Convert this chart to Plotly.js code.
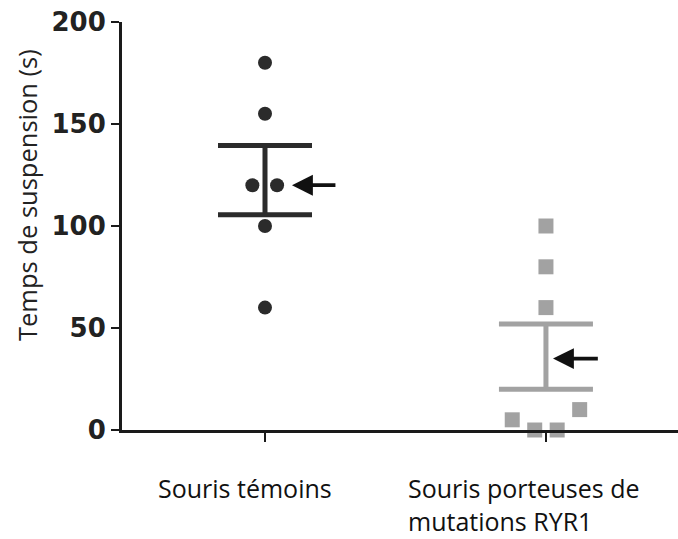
<!DOCTYPE html>
<html>
<head>
<meta charset="utf-8">
<script src="https://cdn.plot.ly/plotly-3.0.1.min.js"></script>
<style>html,body{margin:0;padding:0;background:#fff;}#chart{width:678px;height:539px;}</style>
</head>
<body>
<div id="chart"></div>
<script>
// Data
const categories = ["Souris témoins", "Souris porteuses de<br>mutations RYR1"];
const controlValues = [180, 155, 120, 120, 100, 60];
const controlJitter = [0, 0, -0.045, 0.043, 0, 0];
const ryr1Values = [100, 80, 60, 10, 5, 0, 0];
const ryr1Jitter = [0, 0, 0, 0.12, -0.12, -0.04, 0.04];
const groupMeans = [122.5, 36];
const groupSEM = [17, 16];
const yTicks = [0, 50, 100, 150, 200];
const yTitle = "Temps de suspension (s)";

const dark = '#2b2b2b';
const grey = '#a2a2a2';

// plot-area geometry in pixels (for converting text positions to paper fractions)
const PL = 122, PW = 556, PB = 430, PH = 408;
const px2x = p => (p - PL) / PW;
const px2y = p => (PB - p) / PH;

const traces = [
  {
    type: 'scatter', mode: 'markers',
    x: controlValues.map((v, i) => 1 + controlJitter[i]),
    y: controlValues,
    marker: {symbol: 'circle', size: 14, color: dark},
    cliponaxis: false, hoverinfo: 'skip'
  },
  {
    type: 'scatter', mode: 'markers',
    x: ryr1Values.map((v, i) => 2 + ryr1Jitter[i]),
    y: ryr1Values,
    marker: {symbol: 'square', size: 15, color: grey},
    cliponaxis: false, hoverinfo: 'skip'
  },
  {
    type: 'scatter', mode: 'markers',
    x: [1], y: [groupMeans[0]],
    marker: {size: 1, color: 'rgba(0,0,0,0)'},
    error_y: {type: 'data', array: [groupSEM[0]], visible: true, color: dark, thickness: 5, width: 47},
    hoverinfo: 'skip'
  },
  {
    type: 'scatter', mode: 'markers',
    x: [2], y: [groupMeans[1]],
    marker: {size: 1, color: 'rgba(0,0,0,0)'},
    error_y: {type: 'data', array: [groupSEM[1]], visible: true, color: grey, thickness: 5, width: 47},
    hoverinfo: 'skip'
  }
];

const labelFont = {family: 'Open Sans', size: 25, color: '#111'};
const annotations = [
  {x: 1.096, y: 120, ax: 1.256, ay: 120, xref: 'x', yref: 'y', axref: 'x', ayref: 'y',
   text: '', showarrow: true, arrowhead: 2, arrowsize: 1.1, arrowwidth: 3.8, arrowcolor: '#111'},
  {x: 2.025, y: 35, ax: 2.19, ay: 35, xref: 'x', yref: 'y', axref: 'x', ayref: 'y',
   text: '', showarrow: true, arrowhead: 2, arrowsize: 1.1, arrowwidth: 3.8, arrowcolor: '#111'},
  {x: px2x(27), y: px2y(195), xref: 'paper', yref: 'paper', text: yTitle, textangle: -90, showarrow: false,
   xanchor: 'center', yanchor: 'middle', font: {family: 'Open Sans', size: 25.5, color: '#222'}}
];
// category labels, left-aligned blocks, one annotation per line
const labelLeft = [156, 406];
categories.forEach((c, ci) => {
  c.split('<br>').forEach((line, li) => {
    annotations.push({
      x: px2x(labelLeft[ci]), y: px2y(488 + li * 33), xref: 'paper', yref: 'paper',
      xanchor: 'left', yanchor: 'middle', align: 'left', text: line, showarrow: false, font: labelFont
    });
  });
});

const layout = {
  width: 678, height: 539,
  margin: {l: PL, r: 0, t: 22, b: 109, pad: 0},
  paper_bgcolor: '#fff', plot_bgcolor: '#fff',
  showlegend: false,
  xaxis: {
    range: [0.491, 2.47], tickvals: [1, 2], ticktext: ['', ''],
    showgrid: false, zeroline: false, showline: true, linecolor: '#1a1a1a', linewidth: 3,
    ticks: 'outside', ticklen: 9, tickwidth: 2.5, tickcolor: '#1a1a1a'
  },
  yaxis: {
    range: [0, 200], tickvals: yTicks, ticktext: yTicks.map(String),
    showgrid: false, zeroline: false, showline: true, linecolor: '#1a1a1a', linewidth: 3,
    ticks: 'outside', ticklen: 8, tickwidth: 2.5, tickcolor: '#1a1a1a',
    tickfont: {family: 'DejaVu Sans', size: 26, weight: 'bold', color: '#222'}
  },
  annotations: annotations
};

Plotly.newPlot('chart', traces, layout, {staticPlot: true});
</script>
</body>
</html>
